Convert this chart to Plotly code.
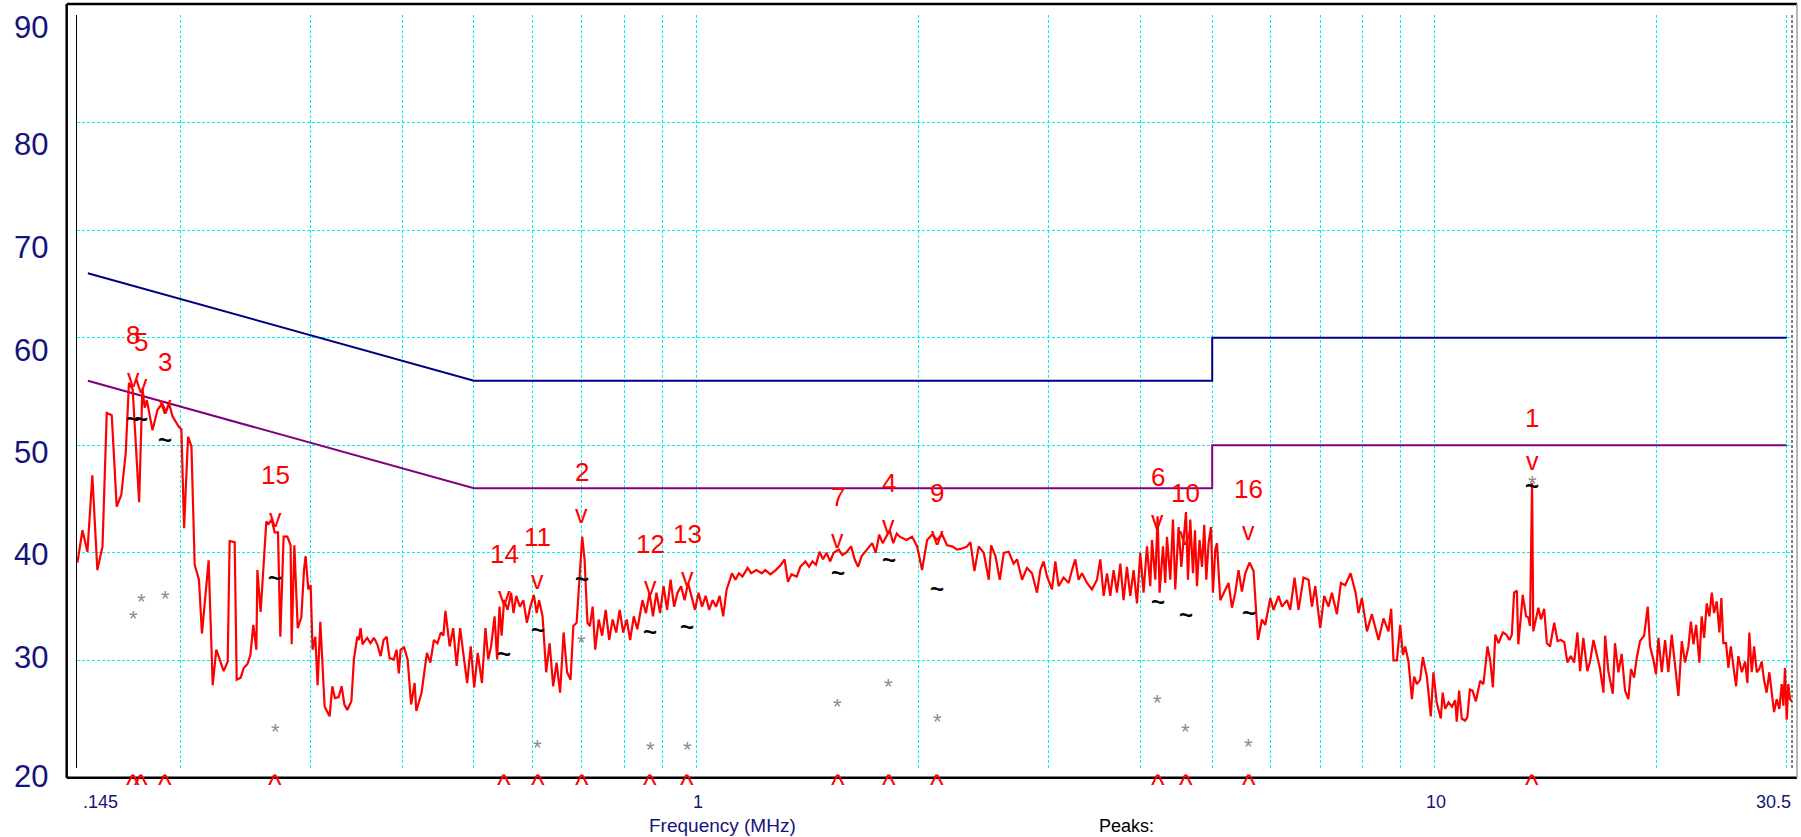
import numpy as np
import plotly.graph_objects as go

# ---------------- data ----------------
# measured spectrum (frequency in MHz, level in dBuV)
freq_mhz = [
    0.1452, 0.1475, 0.1498, 0.1521, 0.1545, 0.1570, 0.1591, 0.1616, 0.1641, 0.1665,
    0.1688, 0.1705, 0.1725, 0.1760, 0.1778, 0.1791, 0.1803, 0.1835, 0.1864, 0.1892,
    0.1912, 0.1932, 0.1953, 0.1993, 0.2008, 0.2025, 0.2050, 0.2072, 0.2093, 0.2121,
    0.2141, 0.2186, 0.2214, 0.2239, 0.2291, 0.2320, 0.2334, 0.2371, 0.2386, 0.2416,
    0.2439, 0.2469, 0.2490, 0.2513, 0.2537, 0.2545, 0.2571, 0.2617, 0.2636, 0.2661,
    0.2686, 0.2714, 0.2734, 0.2762, 0.2794, 0.2823, 0.2832, 0.2856, 0.2886, 0.2919,
    0.2943, 0.2958, 0.2983, 0.3005, 0.3023, 0.3049, 0.3071, 0.3097, 0.3139, 0.3188,
    0.3215, 0.3241, 0.3279, 0.3310, 0.3338, 0.3369, 0.3412, 0.3439, 0.3475, 0.3493,
    0.3511, 0.3533, 0.3548, 0.3585, 0.3622, 0.3660, 0.3699, 0.3738, 0.3772, 0.3808,
    0.3844, 0.3896, 0.3928, 0.3956,
    0.3978, 0.4022, 0.4066, 0.4111, 0.4156, 0.4178, 0.4247, 0.4318, 0.4365, 0.4413,
    0.4462, 0.4510, 0.4546, 0.4575, 0.4636, 0.4687, 0.4738, 0.4790, 0.4843, 0.4896,
    0.4951, 0.5005, 0.5060, 0.5127, 0.5183, 0.5229, 0.5275, 0.5333, 0.5375, 0.5416,
    0.5451, 0.5494, 0.5554, 0.5615, 0.5657, 0.5706, 0.5771, 0.5834, 0.5899, 0.5963,
    0.6028, 0.6081, 0.6127, 0.6194, 0.6264, 0.6332, 0.6402, 0.6471, 0.6542, 0.6614,
    0.6686, 0.6759, 0.6818, 0.6888, 0.6948, 0.7009, 0.7061, 0.7125, 0.7179, 0.7242,
    0.7299, 0.7379, 0.7459, 0.7542, 0.7624, 0.7707, 0.7793, 0.7878, 0.7965, 0.8052,
    0.8140, 0.8232, 0.8324, 0.8459, 0.8551, 0.8646, 0.8740, 0.8835, 0.8935, 0.9034,
    0.9133, 0.9233, 0.9335, 0.9436, 0.9541, 0.9645, 0.9750, 0.9858, 0.9965, 1.0074,
    1.0186, 1.0301, 1.0414, 1.0527, 1.0643, 1.0760, 1.0879, 1.0998, 1.1183, 1.1303,
    1.1427, 1.1553, 1.1741, 1.1874, 1.2067, 1.2269, 1.2405, 1.2606, 1.2817, 1.3028,
    1.3173, 1.3316, 1.3464, 1.3686, 1.3838, 1.4063, 1.4219, 1.4374, 1.4531, 1.4693,
    1.4853, 1.5021, 1.5185, 1.5354, 1.5604, 1.5774, 1.5953, 1.6216, 1.6393, 1.6571,
    1.6755, 1.7035, 1.7316, 1.7509, 1.7699, 1.7892, 1.8091, 1.8288, 1.8491, 1.8697,
    1.8870, 1.9265, 1.9610, 1.9920, 2.0230, 2.0550, 2.0870, 2.1200, 2.1535, 2.1871,
    2.2218, 2.2568, 2.2920, 2.3281, 2.3524, 2.3818, 2.4140, 2.4521, 2.4909, 2.5093,
    2.5432, 2.5779, 2.6102, 2.6508, 2.6915, 2.7202, 2.7631, 2.8061, 2.8503, 2.8953,
    2.9255, 2.9554, 2.9869, 3.0339, 3.0655, 3.0967, 3.1456, 3.1953, 3.2293, 3.2622,
    3.2961, 3.3313, 3.3838, 3.4365, 3.4908, 3.5271, 3.5639, 3.6018, 3.6385, 3.6764,
    3.7154, 3.7541, 3.7924, 3.8327, 3.8726, 3.9130, 3.9547, 3.9950, 4.0365, 4.0795,
    4.1220, 4.1439, 4.1871, 4.2170, 4.2434, 4.2886, 4.3194, 4.3424, 4.3876, 4.4242,
    4.4560, 4.5024, 4.5408, 4.5734, 4.6073, 4.6360, 4.6693, 4.7092, 4.7386, 4.7682,
    4.8068, 4.8434, 4.8781, 4.9086, 4.9438, 4.9815, 5.0119, 5.0478, 5.0746, 5.1275,
    5.2074, 5.2617, 5.3177, 5.3731, 5.4279, 5.4857, 5.5429, 5.6174, 5.6885, 5.7671,
    5.8392, 5.9001, 5.9931, 6.0543, 6.1500, 6.2155, 6.3128, 6.3771, 6.4643, 6.5452,
    6.6474, 6.7524, 6.8245, 6.8956, 7.0029, 7.0896, 7.1864, 7.2629, 7.3777, 7.4700,
    7.5705,
    7.699, 7.820, 7.891, 7.975, 8.101, 8.227, 8.400, 8.531, 8.664, 8.738,
    8.801, 8.895, 8.987, 9.063, 9.128, 9.222, 9.320, 9.387, 9.467, 9.563,
    9.645, 9.766, 9.888, 9.968, 10.07, 10.20, 10.26, 10.34, 10.45, 10.56,
    10.67, 10.72, 10.80, 10.89, 11.00, 11.08, 11.17, 11.26, 11.38, 11.53,
    11.65, 11.80, 11.90, 12.00, 12.09, 12.21, 12.38, 12.51, 12.64, 12.73,
    12.82, 12.93, 12.99, 13.09, 13.17, 13.31, 13.40, 13.47, 13.56, 13.61,
    13.73, 13.83, 13.94, 14.08, 14.20, 14.34, 14.53, 14.68, 14.83, 14.99,
    15.14, 15.30, 15.46, 15.62, 15.75, 15.91, 16.11, 16.25, 16.42, 16.59,
    16.76, 16.94, 17.03, 17.20, 17.44, 17.56, 17.75, 17.93, 18.12, 18.31,
    18.46, 18.64, 18.79, 18.99, 19.23, 19.45, 19.59, 19.79, 19.96, 20.11,
    20.32, 20.53, 20.74, 20.96, 21.18, 21.40, 21.63, 21.85, 22.08, 22.25,
    22.43, 22.62, 22.85, 23.01, 23.19, 23.38, 23.57, 23.75, 23.92, 24.12,
    24.32, 24.47, 24.62, 24.83, 25.01, 25.20, 25.40, 25.62, 25.80, 26.08,
    26.35, 26.54, 26.70, 26.90, 27.10, 27.33, 27.54, 27.75, 27.95, 28.18,
    28.42, 28.63, 28.84, 29.08, 29.32, 29.54, 29.69, 29.84, 30.00, 30.15,
    30.31, 30.47,
]
level_dbuv = [
    39.1, 42.1, 40.1, 47.2, 38.4, 40.6, 53.0, 52.8, 44.3, 45.4,
    49.3, 55.8, 55.2, 44.7, 55.3, 53.5, 54.2, 51.4, 53.3, 53.9,
    53.1, 53.9, 52.7, 51.7, 51.5, 42.3, 50.8, 49.9, 38.9, 37.5,
    32.5, 39.3, 27.7, 31.0, 29.0, 29.9, 41.1, 41.0, 28.2, 28.4,
    29.3, 29.7, 30.5, 33.3, 31.0, 38.4, 34.5, 42.9, 42.7, 43.1,
    41.9, 41.9, 32.2, 41.5, 41.5, 40.7, 31.5, 40.7, 33.0, 34.0,
    38.4, 39.7, 36.6, 37.0, 31.0, 32.2, 27.7, 33.6, 25.7, 24.8,
    27.6, 26.5, 26.6, 27.6, 25.9, 25.4, 26.2, 30.1, 32.2, 31.9,
    33.0, 31.5, 31.7, 32.1, 31.6, 32.1, 31.5, 30.4, 31.9, 32.2,
    30.2, 30.1, 31.0, 28.8,
    31.0, 31.2, 30.1, 25.9, 27.9, 25.3, 27.0, 30.7, 29.8, 31.9,
    31.6, 32.6, 32.3, 34.6, 31.3, 33.0, 29.5, 33.0, 30.4, 27.9,
    31.3, 27.5, 30.7, 27.9, 33.0, 30.1, 31.3, 34.1, 30.1, 35.0,
    32.3, 35.6, 34.7, 36.3, 34.4, 36.0, 35.0, 35.6, 33.5, 35.0,
    36.1, 34.4, 35.6, 34.1, 28.9, 31.6, 27.6, 29.8, 27.0, 32.6,
    28.9, 28.2, 33.2, 33.5, 37.5, 41.5, 39.4, 33.5, 33.2, 35.0,
    31.0, 33.8, 32.3, 34.7, 31.9, 33.8, 32.6, 34.7, 32.6, 33.8,
    31.9, 34.1, 32.9, 35.6, 34.4, 36.3, 34.1, 36.3, 34.4, 36.9,
    34.7, 37.5, 35.0, 36.3, 36.9, 35.6, 37.2, 36.0, 34.7, 36.3,
    35.0, 36.0, 34.7, 35.6, 35.0, 36.0, 34.1, 36.6, 38.1, 37.5,
    38.1, 37.8, 38.6, 38.1, 38.4, 38.1, 38.4, 38.0, 38.4, 38.9,
    39.4, 37.3, 38.0, 37.8, 38.7, 39.2, 38.7, 39.2, 38.9, 40.1,
    39.4, 40.0, 39.2, 40.0, 40.3, 39.8, 40.0, 40.6, 39.4, 38.7,
    39.7, 40.3, 40.9, 40.0, 41.7, 40.9, 41.5, 42.1, 40.9, 41.8,
    41.5, 41.2, 41.5, 40.6, 38.4, 41.2, 41.7, 41.2, 41.7, 40.7,
    40.6, 40.3, 40.4, 40.6, 41.0, 38.3, 40.6, 40.0, 37.5, 40.7,
    39.7, 37.5, 40.0, 40.1, 39.0, 39.4, 37.5, 38.6, 38.1, 36.3,
    38.4, 39.2, 37.8, 36.6, 39.2, 36.9, 37.7, 37.2, 38.4, 39.4,
    37.5, 38.1, 37.2, 36.6, 37.5, 39.4, 36.0, 38.1, 36.0, 38.4,
    36.3, 39.0, 35.6, 38.7, 36.0, 38.4, 35.3, 40.0, 36.3, 40.6,
    36.9, 41.2, 37.5, 43.4, 36.3, 40.6, 37.2, 41.5, 37.5, 43.1,
    36.6, 42.4, 38.7, 41.5, 43.8, 37.5, 43.1, 38.1, 42.1, 36.9,
    41.2, 38.7, 42.6, 37.5, 40.9, 42.4, 36.3, 40.3, 40.9, 35.6,
    36.6, 37.2, 34.9, 36.3, 38.4, 36.4, 38.1, 39.1, 38.3, 31.9,
    33.8, 33.3, 35.8, 34.7, 36.0, 35.0, 35.6, 34.7, 37.7, 34.7,
    37.7, 37.5, 35.0, 36.9, 33.0, 36.0, 35.0, 36.3, 34.3, 37.2,
    37.0,
    38.1, 36.3, 34.4, 35.8, 32.7, 34.3, 31.9, 33.9, 32.7, 34.8,
    30.0, 30.0, 33.3, 30.5, 31.3, 29.9, 26.4, 28.5, 27.8, 28.2,
    30.3, 28.5, 24.8, 28.9, 26.1, 24.6, 27.0, 25.5, 26.1, 25.7,
    26.3, 24.3, 27.2, 24.6, 24.4, 24.7, 27.3, 27.2, 26.2, 28.1,
    27.8, 31.3, 30.0, 27.5, 32.4, 31.6, 32.6, 32.4, 31.9, 32.4,
    36.3, 36.5, 31.5, 34.0, 36.1, 34.1, 34.0, 33.2, 46.5, 32.7,
    33.8, 34.9, 33.8, 34.8, 31.6, 31.3, 33.5, 31.8, 31.9, 31.7,
    29.8, 30.4, 29.8, 32.6, 29.0, 32.1, 29.0, 29.9, 31.9, 30.4,
    29.2, 27.0, 32.3, 29.0, 26.9, 31.6, 28.9, 30.6, 27.2, 26.4,
    29.2, 28.4, 30.2, 31.8, 32.3, 35.0, 31.3, 30.1, 28.7, 32.1,
    28.9, 31.9, 28.9, 32.4, 29.5, 26.7, 31.8, 29.8, 31.3, 33.6,
    31.5, 33.3, 29.8, 34.1, 32.1, 35.3, 34.1, 36.3, 34.4, 35.5,
    32.6, 35.8, 31.6, 31.6, 29.3, 31.3, 29.5, 27.6, 30.4, 28.9,
    29.9, 27.9, 32.6, 28.9, 31.3, 28.9, 29.2, 29.9, 28.2, 27.0,
    28.9, 26.9, 25.2, 26.4, 25.5, 27.8, 25.8, 29.3, 24.5, 27.8,
    26.4, 26.2,
]

# peak table (peak number, frequency MHz, peak / quasi-peak / average dBuV)
peak_no = [1, 2, 3, 4, 5, 6, 7, 8, 9, 10, 11, 12, 13, 14, 15, 16]
peak_freq = [13.56, 0.700, 0.1908, 1.823, 0.1773, 4.217, 1.554, 0.1727,
             2.120, 4.602, 0.610, 0.8663, 0.9726, 0.5496, 0.2689, 5.601]
peak_db = [48.4, 43.4, 53.6, 42.4, 55.5, 42.9, 41.1, 56.1,
           41.4, 41.4, 37.3, 36.7, 37.6, 35.8, 43.1, 41.8]
qp_db = [46.3, 37.6, 50.5, 39.4, 52.5, 35.5, 38.2, 52.5,
         36.7, 34.3, 32.9, 32.7, 33.2, 30.6, 37.7, 34.5]
av_db = [46.9, 32.1, 36.2, 28.0, 35.9, 26.6, 26.2, 34.4,
         24.8, 23.9, 22.4, 22.2, 22.2, 19.7, 23.9, 22.5]

# limit lines
limit_freq = [0.15, 0.5, 5.0, 5.0, 30.0]
qp_limit_db = [66, 56, 56, 60, 60]
av_limit_db = [56, 46, 46, 50, 50]

# axes
x_min, x_max = 0.145, 30.5
y_min, y_max = 20, 90
y_ticks = [20, 30, 40, 50, 60, 70, 80, 90]
x_grid = [0.2, 0.3, 0.4, 0.5, 0.6, 0.7, 0.8, 0.9, 1, 2, 3, 4, 5, 6, 7, 8, 9, 10, 20, 30]
x_label_vals = [0.145, 1, 10, 30.5]
x_label_text = [".145", "1", "10", "30.5"]

# ---------------- style ----------------
FONT = "Liberation Sans, Arial, sans-serif"
NAVY = "#14147a"
GRID = "#00f0f0"
W, H = 1801, 837
ML, MR, MT, MB = 77, 9, 15, 69
PW, PH = W - ML - MR, H - MT - MB
# how far (px, downwards) each y label sits below its grid line in the original layout
y_label_drop = [8, -3, 2, 7.5, 12.5, 17, 22, 12]


def px_x(X):
    return (X - ML) / PW


def px_y(Y):
    return (H - MB - Y) / PH


fig = go.Figure()

fig.add_trace(go.Scatter(x=limit_freq, y=qp_limit_db, mode="lines",
                         line=dict(color="#000080", width=2), hoverinfo="skip"))
fig.add_trace(go.Scatter(x=limit_freq, y=av_limit_db, mode="lines",
                         line=dict(color="#800080", width=2), hoverinfo="skip"))
fig.add_trace(go.Scatter(x=freq_mhz, y=level_dbuv, mode="lines",
                         line=dict(color="#ff0000", width=2.2), hoverinfo="skip"))

ann = []


def glyph(f, y, text, color, size, yshift=0, yref="y"):
    ann.append(dict(x=np.log10(f), y=y, xref="x", yref=yref, text=text,
                    showarrow=False, xanchor="center", yanchor="middle",
                    yshift=yshift, font=dict(family=FONT, size=size, color=color)))


for n, f, pk, qp, av in zip(peak_no, peak_freq, peak_db, qp_db, av_db):
    glyph(f, av, "*", "#8c8c8c", 22, yshift=-5)
    glyph(f, qp, "<b>~</b>", "#000000", 24, yshift=0)
    glyph(f, pk, "v", "#ff0000", 25, yshift=2)
    glyph(f, pk, str(n), "#ff0000", 26, yshift=44.5)
    glyph(f, 0, "^", "#ff0000", 29, yshift=-17, yref="paper")

# y axis labels
for v, d in zip(y_ticks, y_label_drop):
    ann.append(dict(x=px_x(50), y=v, xref="paper", yref="y", text=str(v), showarrow=False,
                    xanchor="right", yanchor="middle", yshift=-d,
                    font=dict(family=FONT, size=31, color=NAVY)))

# x axis labels
for v, t in zip(x_label_vals, x_label_text):
    xa = "center"
    if t == ".145":
        xa = "left"
    elif t == "30.5":
        xa = "right"
    shift = 4 if xa == "left" else (1 if xa == "right" else 2)
    ann.append(dict(x=np.log10(v), y=0, xref="x", yref="paper", text=t, showarrow=False,
                    xanchor=xa, yanchor="middle", yshift=-(802 - (H - MB)), xshift=shift,
                    font=dict(family=FONT, size=18, color=NAVY)))

ann.append(dict(x=px_x(722.5), y=px_y(825), xref="paper", yref="paper",
                text="Frequency (MHz)", showarrow=False, xanchor="center", yanchor="middle",
                font=dict(family=FONT, size=19, color=NAVY)))
ann.append(dict(x=px_x(1126), y=px_y(837), xref="paper", yref="paper",
                text="Peaks:", showarrow=False, xanchor="center", yanchor="bottom",
                borderpad=0, font=dict(family=FONT, size=18, color="#000000")))

# frame
fx0, fx1 = px_x(66.7), px_x(1797)
fy0, fy1 = px_y(777.7), px_y(4)
shapes = [
    dict(type="line", xref="paper", yref="paper", x0=fx0, x1=fx1, y0=fy1, y1=fy1,
         line=dict(color="#000000", width=2.5)),
    dict(type="line", xref="paper", yref="paper", x0=fx0, x1=fx1, y0=fy0, y1=fy0,
         line=dict(color="#000000", width=2.5)),
    dict(type="line", xref="paper", yref="paper", x0=fx0, x1=fx0, y0=fy0, y1=fy1,
         line=dict(color="#000000", width=2.5)),
    dict(type="line", xref="paper", yref="paper", x0=fx1, x1=fx1, y0=fy0, y1=fy1,
         line=dict(color="#a0a0a0", width=1.5)),
    dict(type="line", xref="paper", yref="paper", x0=1, x1=1, y0=0, y1=1,
         line=dict(color="#000000", width=1, dash="3px,2px")),
]

fig.update_layout(
    width=W, height=H,
    margin=dict(l=ML, r=MR, t=MT, b=MB, autoexpand=False),
    paper_bgcolor="#ffffff", plot_bgcolor="#ffffff",
    showlegend=False,
    annotations=ann,
    shapes=shapes,
    xaxis=dict(type="log", range=[np.log10(x_min), np.log10(x_max)],
               tickvals=x_grid, showticklabels=False,
               showgrid=True, gridcolor=GRID, gridwidth=1, griddash="3px,2px",
               showline=False, zeroline=False, ticks=""),
    yaxis=dict(range=[y_min, y_max], tickvals=y_ticks, showticklabels=False,
               showgrid=True, gridcolor=GRID, gridwidth=1, griddash="3px,2px",
               showline=True, linecolor="#000000", linewidth=1, zeroline=False, ticks=""),
)

fig.write_html("out.html", config={"displayModeBar": False},
               post_script="document.body.style.margin='0';")
